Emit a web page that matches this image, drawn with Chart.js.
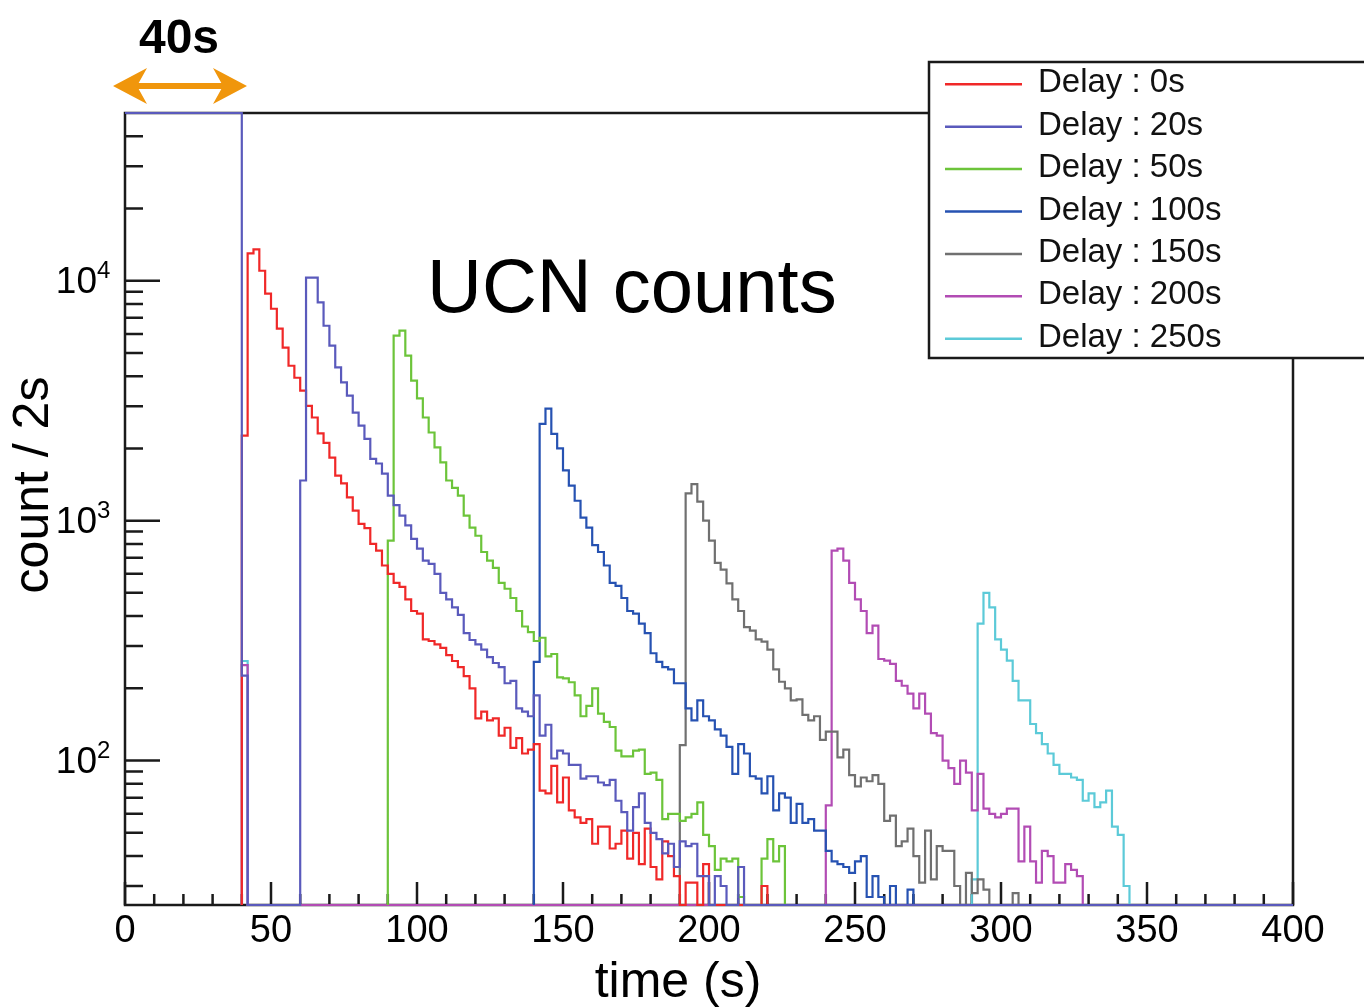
<!DOCTYPE html>
<html>
<head>
<meta charset="utf-8">
<script src="https://cdn.jsdelivr.net/npm/chart.js@4.4.1/dist/chart.umd.min.js"></script>
<style>
  html, body { margin: 0; padding: 0; background: #fff; }
  canvas { display: block; }
</style>
</head>
<body>
<canvas id="ucnChart" width="1364" height="1008" style="width:1364px;height:1008px"></canvas>
<script>
// histogram bin width (s) and the y floor used for empty bins on the log axis
const BIN = 2;
const Y_MIN = 25;
const Y_MAX = 50000;
const X_MAX = 400;

const seriesLabels = ['Delay : 0s', 'Delay : 20s', 'Delay : 50s', 'Delay : 100s', 'Delay : 150s', 'Delay : 200s', 'Delay : 250s'];
const seriesColors = ['#f02828', '#5a5abc', '#6cc43a', '#2652b2', '#707070', '#b24cb4', '#5ccad8'];

// time (s) of the first bin of each series
const startTimes = [40, 0, 90, 140, 190, 240, 290];
// counts in the 40-42 s bin for series whose main data start later
const countsAt40 = [0, 0, 0, 0, 0, 250, 260];

// counts / 2s, one value per bin
const counts0s = [2260, 13000, 13500, 11000, 8830, 7640, 6310, 5260, 4420, 3940, 3480, 3010, 2690, 2310, 2110, 1830, 1540, 1430, 1250, 1100,
  970, 930, 800, 750, 650, 600, 550, 530, 470, 420, 410, 320, 315, 305, 295, 275, 260, 245, 225, 200,
  150, 160, 147, 150, 127, 137, 113, 124, 107, 111, 117, 75, 73, 95, 67, 85, 62, 58, 55, 57,
  45, 53, 53, 43, 45, 51, 39, 50, 37, 52, 36, 32, 46, 40, 33, 0, 31, 31, 0, 37,
  0, 0, 0, 0, 0, 0, 0, 0, 0, 30];
const counts20s = [50000, 50000, 50000, 50000, 50000, 50000, 50000, 50000, 50000, 50000,
  50000, 50000, 50000, 50000, 50000, 50000, 50000, 50000, 50000, 50000,
  226, 0, 0, 0, 0, 0, 0, 0, 0, 0,
  1470, 10300, 10300, 8120, 6490, 5360, 4350, 3770, 3320, 2820, 2490, 2190, 1810, 1730, 1570, 1270, 1160, 1050, 955, 840,
  765, 681, 660, 600, 500, 470, 435, 405, 340, 318, 305, 290, 270, 255, 245, 210, 215, 165, 160, 153,
  187, 127, 141, 102, 110, 107, 96, 96, 84, 86, 86, 81, 79, 83, 68, 61, 51, 64, 73, 55,
  50, 47, 41, 45, 36, 46, 44, 45, 33, 33, 0, 33, 30, 0, 0, 36];
const counts50s = [825, 5900, 6190, 4870, 3830, 3230, 2690, 2330, 2020, 1750, 1470, 1370, 1270, 1050, 935, 865, 740, 681, 635, 550,
  520, 476, 420, 362, 343, 315, 325, 272, 278, 222, 220, 212, 187, 153, 169, 200, 157, 145, 138, 110,
  104, 104, 110, 111, 88, 89, 83, 57, 60, 60, 56, 58, 60, 67, 49, 44, 35, 39, 38, 39,
  27, 0, 0, 0, 39, 47, 38, 44];
const counts100s = [258, 2530, 2930, 2300, 2000, 1620, 1400, 1210, 1030, 935, 790, 740, 650, 550, 535, 476, 420, 410, 372, 340,
  280, 258, 245, 240, 210, 210, 165, 147, 178, 153, 147, 135, 127, 114, 88, 117, 107, 86, 84, 73,
  86, 62, 73, 70, 55, 66, 55, 57, 51, 51, 42, 38, 37, 36, 34, 38, 40, 27, 33, 27,
  0, 30, 0, 0, 29];
const counts150s = [116, 1300, 1420, 1200, 1000, 825, 667, 625, 548, 470, 420, 360, 348, 320, 313, 290, 240, 213, 200, 178,
  180, 155, 147, 153, 122, 132, 132, 103, 111, 87, 78, 85, 82, 87, 80, 56, 59, 44, 46, 52,
  40, 31, 51, 32, 44, 42, 42, 30, 0, 34, 28, 32, 29, 0, 0, 0, 0, 28];
const counts200s = [65, 750, 765, 681, 550, 470, 420, 340, 365, 265, 261, 253, 215, 205, 190, 165, 190, 157, 130, 127,
  100, 93, 80, 100, 89, 62, 88, 63, 60, 58, 60, 63, 63, 38, 53, 38, 31, 42, 40, 31,
  31, 37, 35, 33];
const counts250s = [32, 372, 500, 435, 320, 290, 261, 215, 178, 178, 142, 130, 117, 107, 96, 88, 88, 85, 83, 68,
  73, 64, 67, 75, 53, 49, 30];

const seriesCounts = [counts0s, counts20s, counts50s, counts100s, counts150s, counts200s, counts250s];

// axis ticks
const xLabelTicks = [0, 50, 100, 150, 200, 250, 300, 350, 400];
const xMinorTicks = [10, 20, 30, 40, 60, 70, 80, 90, 110, 120, 130, 140, 160, 170, 180, 190, 210, 220, 230, 240,
  260, 270, 280, 290, 310, 320, 330, 340, 360, 370, 380, 390];
const yLabelTicks = [100, 1000, 10000];
const yLabelExponents = ['2', '3', '4'];
const yMinorTicks = [30, 40, 50, 60, 70, 80, 90, 200, 300, 400, 500, 600, 700, 800, 900,
  2000, 3000, 4000, 5000, 6000, 7000, 8000, 9000, 20000, 30000, 40000];

// turn bin counts into step points; empty bins sit on the axis floor
function histPoints(start, counts, early) {
  const pts = [];
  if (early > 0) {
    pts.push({ x: 40, y: Y_MIN }, { x: 40, y: early }, { x: 40 + BIN, y: Y_MIN });
  }
  if (start > 0) pts.push({ x: start, y: Y_MIN });
  counts.forEach((c, i) => pts.push({ x: start + BIN * i, y: c > 0 ? c : Y_MIN }));
  const end = start + BIN * counts.length;
  pts.push({ x: end, y: Y_MIN }, { x: X_MAX, y: Y_MIN });
  return pts;
}

const datasets = seriesLabels.map((label, i) => ({
  label: label,
  data: histPoints(startTimes[i], seriesCounts[i], countsAt40[i]),
  borderColor: seriesColors[i],
  backgroundColor: seriesColors[i],
  borderWidth: 2.2,
  pointRadius: 0,
  stepped: true,
  fill: false,
  clip: 4,
  order: i === 1 ? -1 : 0,
}));

const FONT = "'Liberation Sans', Arial, Helvetica, sans-serif";

// frame, inward ROOT-style tick marks and the 10^n labels
const frameTicks = {
  id: 'frameTicks',
  beforeDatasetsDraw(chart) {
    const { ctx, chartArea: a, scales: { x, y } } = chart;
    ctx.save();
    ctx.strokeStyle = '#1a1a1a';
    ctx.lineWidth = 2.5;
    ctx.beginPath();
    xLabelTicks.forEach(v => {
      const px = x.getPixelForValue(v);
      ctx.moveTo(px, a.bottom); ctx.lineTo(px, a.bottom - 23);
    });
    xMinorTicks.forEach(v => {
      const px = x.getPixelForValue(v);
      ctx.moveTo(px, a.bottom); ctx.lineTo(px, a.bottom - 11);
    });
    yLabelTicks.forEach(v => {
      const py = y.getPixelForValue(v);
      ctx.moveTo(a.left, py); ctx.lineTo(a.left + 35, py);
    });
    yMinorTicks.forEach(v => {
      const py = y.getPixelForValue(v);
      ctx.moveTo(a.left, py); ctx.lineTo(a.left + 18, py);
    });
    ctx.stroke();
    ctx.strokeRect(a.left, a.top, a.right - a.left, a.bottom - a.top);

    ctx.fillStyle = '#000';
    yLabelTicks.forEach((v, i) => {
      const py = y.getPixelForValue(v);
      ctx.textAlign = 'right';
      ctx.textBaseline = 'middle';
      ctx.font = '37px ' + FONT;
      ctx.fillText('10', 97, py + 2);
      ctx.textAlign = 'left';
      ctx.textBaseline = 'alphabetic';
      ctx.font = '24px ' + FONT;
      ctx.fillText(yLabelExponents[i], 97, py - 3);
    });
    ctx.restore();
  }
};

// text, arrow and legend box on top
const annotations = {
  id: 'annotations',
  afterDraw(chart) {
    const { ctx } = chart;
    ctx.save();
    ctx.fillStyle = '#000';

    ctx.font = '76px ' + FONT;
    ctx.textAlign = 'left';
    ctx.textBaseline = 'alphabetic';
    ctx.fillText('UCN counts', 427, 312);

    ctx.font = 'bold 48px ' + FONT;
    ctx.textAlign = 'center';
    ctx.fillText('40s', 179, 53);

    ctx.font = '50px ' + FONT;
    ctx.fillText('time (s)', 678, 997);
    ctx.save();
    ctx.translate(48, 485);
    ctx.rotate(-Math.PI / 2);
    ctx.fillText('count / 2s', 0, 0);
    ctx.restore();

    // orange double arrow
    const ay = 86;
    ctx.strokeStyle = '#f0960c';
    ctx.fillStyle = '#f0960c';
    ctx.lineWidth = 6;
    ctx.beginPath();
    ctx.moveTo(125, ay); ctx.lineTo(235, ay);
    ctx.stroke();
    ctx.beginPath();
    ctx.moveTo(113, ay); ctx.lineTo(147, ay - 18); ctx.lineTo(137, ay); ctx.lineTo(147, ay + 18); ctx.closePath();
    ctx.moveTo(247, ay); ctx.lineTo(213, ay - 18); ctx.lineTo(223, ay); ctx.lineTo(213, ay + 18); ctx.closePath();
    ctx.fill();

    // legend
    ctx.fillStyle = '#fff';
    ctx.fillRect(929, 62, 460, 296);
    ctx.strokeStyle = '#1a1a1a';
    ctx.lineWidth = 2.5;
    ctx.strokeRect(929, 62, 460, 296);
    ctx.font = '33px ' + FONT;
    ctx.textAlign = 'left';
    chart.data.datasets.forEach((ds, i) => {
      const ly = 84.3 + 42.4 * i;
      ctx.strokeStyle = ds.borderColor;
      ctx.lineWidth = 2.5;
      ctx.beginPath();
      ctx.moveTo(945, ly); ctx.lineTo(1022, ly);
      ctx.stroke();
      ctx.fillStyle = '#111';
      ctx.fillText(ds.label, 1038, ly + 8);
    });
    ctx.restore();
  }
};

new Chart(document.getElementById('ucnChart'), {
  type: 'line',
  data: { datasets: datasets },
  options: {
    responsive: false,
    animation: false,
    layout: { padding: { top: 113, right: 71, left: 0, bottom: 0 } },
    plugins: {
      legend: { display: false },
      tooltip: { enabled: false },
    },
    scales: {
      x: {
        type: 'linear',
        min: 0,
        max: X_MAX,
        afterFit(scale) { scale.height = 103; },
        afterBuildTicks(scale) { scale.ticks = xLabelTicks.map(v => ({ value: v })); },
        grid: { display: false, drawTicks: false },
        border: { display: false },
        ticks: {
          autoSkip: false,
          maxRotation: 0,
          padding: 4,
          color: '#000',
          font: { family: FONT, size: 38 },
        },
      },
      y: {
        type: 'logarithmic',
        min: Y_MIN,
        max: Y_MAX,
        afterFit(scale) { scale.width = 125; },
        afterBuildTicks(scale) { scale.ticks = yLabelTicks.map(v => ({ value: v })); },
        grid: { display: false, drawTicks: false },
        border: { display: false },
        ticks: { display: false },
      },
    },
  },
  plugins: [frameTicks, annotations],
});
</script>
</body>
</html>
